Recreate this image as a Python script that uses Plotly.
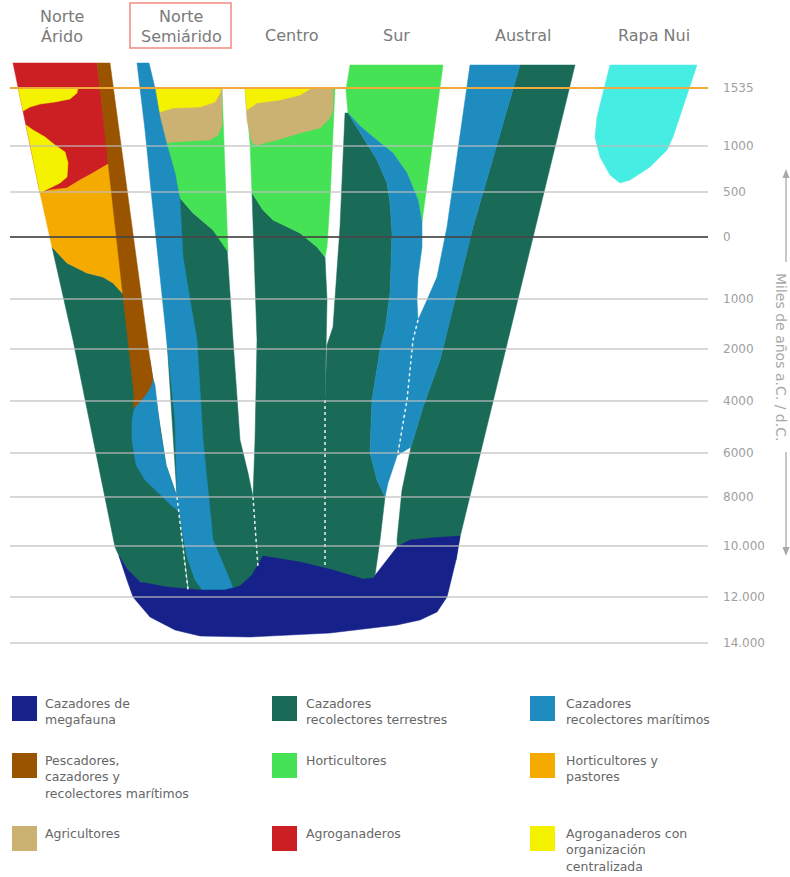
import plotly.graph_objects as go

# ---------------- data ----------------
COLUMNS = ["Norte<br>Árido", "Norte<br>Semiárido", "Centro", "Sur", "Austral", "Rapa Nui"]
COLUMN_X = [62, 181, 291, 396, 523, 654]
COLUMN_Y = [16, 16, 35, 35, 35, 35]

TICK_LABELS = ["1535", "1000", "500", "0", "1000", "2000", "4000", "6000", "8000",
               "10.000", "12.000", "14.000"]
TICK_POS = [88, 146, 192, 237, 299, 349, 401, 453, 497, 546, 597, 643]

CATEGORIES = ["Cazadores de<br>megafauna", "Cazadores<br>recolectores terrestres",
              "Cazadores<br>recolectores marítimos",
              "Pescadores,<br>cazadores y<br>recolectores marítimos", "Horticultores",
              "Horticultores y<br>pastores", "Agricultores", "Agroganaderos",
              "Agroganaderos con<br>organización<br>centralizada"]
COLORS = ["#16228a", "#1a6a58", "#1e8cbf", "#9a5400", "#45e255", "#f5aa00",
          "#cbb273", "#cc1f24", "#f5f200"]
RAPA_COLOR = "#45ede3"

# polygons (outline vertices of each band, x across columns, y on the time scale)
ARIDO_GREEN_X = [52, 67, 87, 103, 113, 124, 150, 153, 166, 177, 188, 170, 135, 120, 115, 73]
ARIDO_GREEN_Y = [247, 263, 273, 277, 283, 295, 360, 380, 465, 497, 592, 592, 580, 558, 547, 340]
ARIDO_RED_X = [13, 97, 110, 93, 80, 67, 40]
ARIDO_RED_Y = [63, 63, 163, 173, 180, 188, 193]
ARIDO_YEL1_X = [18, 78, 77, 70, 55, 40, 30, 23]
ARIDO_YEL1_Y = [88, 88, 93, 99, 102, 104, 107, 111]
ARIDO_YEL2_X = [26, 33, 45, 55, 65, 68, 67, 60, 50, 40]
ARIDO_YEL2_Y = [125, 130, 137, 145, 152, 163, 177, 183, 188, 193]
ARIDO_ORANGE_X = [40, 50, 67, 80, 93, 110, 124, 113, 103, 87, 67, 52]
ARIDO_ORANGE_Y = [193, 190, 188, 180, 173, 163, 295, 283, 277, 273, 263, 247]
ARIDO_BLUE_X = [150, 155, 160, 166, 177, 180, 172, 160, 145, 136, 132, 132, 134, 140]
ARIDO_BLUE_Y = [370, 385, 430, 465, 497, 512, 506, 494, 480, 465, 440, 420, 410, 398]
ARIDO_BROWN_X = [97, 110, 150, 153, 150, 144, 138, 133, 134]
ARIDO_BROWN_Y = [63, 63, 360, 380, 388, 397, 404, 408, 395]

SEMI_DKGREEN_X = [175, 180, 193, 213, 227, 230, 233, 240, 248, 253, 258, 262, 190, 177, 167, 160]
SEMI_DKGREEN_Y = [175, 198, 213, 230, 247, 300, 340, 440, 473, 497, 567, 600, 600, 497, 340, 200]
SEMI_GREEN_X = [152, 222, 225, 228, 213, 193, 180, 165]
SEMI_GREEN_Y = [88, 88, 170, 252, 230, 213, 198, 140]
SEMI_TAN_X = [153, 222, 222, 218, 210, 173, 162, 157]
SEMI_TAN_Y = [88, 88, 125, 135, 140, 142, 144, 110]
SEMI_YEL_X = [153, 221, 220, 215, 200, 173, 157, 155]
SEMI_YEL_Y = [88, 88, 93, 102, 107, 108, 113, 100]
SEMI_BLUE_X = [137, 149, 155, 160, 167, 175, 180, 183, 190, 197, 203, 213, 227, 233, 215, 203,
               195, 187, 182, 177, 175, 167, 158, 152, 145]
SEMI_BLUE_Y = [63, 63, 88, 117, 145, 173, 200, 257, 300, 340, 440, 540, 573, 588, 592, 591,
               580, 557, 530, 497, 420, 340, 257, 200, 130]

CENTRO_DKGREEN_X = [252, 263, 273, 300, 317, 325, 327, 325, 325, 330, 255, 258, 253, 255, 257, 254]
CENTRO_DKGREEN_Y = [193, 210, 220, 233, 247, 257, 300, 400, 570, 590, 590, 567, 497, 440, 340, 257]
CENTRO_GREEN_X = [245, 335, 330, 327, 325, 317, 300, 273, 263, 252, 250]
CENTRO_GREEN_Y = [88, 88, 200, 247, 257, 247, 233, 220, 210, 193, 143]
CENTRO_TAN_X = [245, 333, 333, 330, 320, 300, 277, 257, 252, 247]
CENTRO_TAN_Y = [88, 88, 110, 118, 128, 133, 140, 145, 143, 120]
CENTRO_YEL_X = [245, 312, 310, 300, 280, 257, 247]
CENTRO_YEL_Y = [88, 88, 89, 95, 100, 103, 110]

SUR_DKGREEN_X = [348, 363, 377, 387, 390, 392, 390, 385, 380, 372, 370, 377, 385, 380, 375, 365,
                 328, 325, 325, 327, 333, 340, 345]
SUR_DKGREEN_Y = [113, 137, 160, 183, 203, 233, 293, 330, 350, 400, 453, 480, 497, 540, 575, 590,
                 590, 567, 400, 345, 327, 227, 113]
SUR_GREEN_X = [350, 443, 422, 418, 407, 393, 373, 360, 348, 346]
SUR_GREEN_Y = [65, 65, 222, 200, 173, 153, 137, 126, 113, 90]
SUR_BLUE_X = [348, 360, 373, 393, 407, 418, 422, 422, 418, 417, 418, 413, 407, 398, 388, 385,
              377, 370, 372, 380, 385, 390, 392, 390, 387, 377, 363]
SUR_BLUE_Y = [113, 126, 137, 153, 173, 200, 222, 247, 277, 300, 320, 340, 400, 453, 483, 497,
              480, 453, 400, 350, 330, 293, 233, 203, 183, 160, 137]

AUSTRAL_DKGREEN_X = [520, 575, 460, 456, 398, 397, 402, 411, 423, 440, 473]
AUSTRAL_DKGREEN_Y = [65, 65, 537, 560, 560, 540, 490, 447, 407, 360, 227]
AUSTRAL_BLUE_X = [470, 520, 473, 440, 423, 411, 398, 407, 413, 418, 427, 437, 447]
AUSTRAL_BLUE_Y = [65, 65, 227, 360, 407, 447, 455, 400, 340, 320, 300, 277, 227]

MEGAFAUNA_X = [119, 128, 140, 167, 200, 225, 240, 252, 263, 300, 333, 363, 373, 385, 397, 410,
               430, 460, 456, 447, 437, 420, 397, 330, 250, 200, 175, 150, 133, 127, 122]
MEGAFAUNA_Y = [556, 570, 582, 587, 590, 590, 586, 575, 556, 562, 570, 579, 578, 563, 547, 540,
               538, 536, 560, 597, 612, 620, 625, 633, 637, 636, 630, 617, 597, 580, 566]

RAPA_X = [610, 697, 673, 667, 650, 630, 620, 610, 600, 595, 597]
RAPA_Y = [65, 65, 137, 150, 167, 180, 183, 175, 157, 137, 117]

DOT1_X, DOT1_Y = [177, 188], [497, 590]
DOT2_X, DOT2_Y = [253, 258], [497, 567]
DOT3_X, DOT3_Y = [325, 325], [400, 567]
DOT4_X, DOT4_Y = [418, 413, 407, 398], [320, 340, 400, 453]

# ---------------- figure ----------------
C = dict(zip(["mega", "terr", "mar", "pesc", "hort", "hortp", "agri", "agro", "agroc"], COLORS))

polys = [
    (ARIDO_GREEN_X, ARIDO_GREEN_Y, C["terr"]),
    (ARIDO_RED_X, ARIDO_RED_Y, C["agro"]),
    (ARIDO_YEL1_X, ARIDO_YEL1_Y, C["agroc"]),
    (ARIDO_YEL2_X, ARIDO_YEL2_Y, C["agroc"]),
    (ARIDO_ORANGE_X, ARIDO_ORANGE_Y, C["hortp"]),
    (ARIDO_BLUE_X, ARIDO_BLUE_Y, C["mar"]),
    (ARIDO_BROWN_X, ARIDO_BROWN_Y, C["pesc"]),
    (SEMI_DKGREEN_X, SEMI_DKGREEN_Y, C["terr"]),
    (SEMI_GREEN_X, SEMI_GREEN_Y, C["hort"]),
    (SEMI_TAN_X, SEMI_TAN_Y, C["agri"]),
    (SEMI_YEL_X, SEMI_YEL_Y, C["agroc"]),
    (SEMI_BLUE_X, SEMI_BLUE_Y, C["mar"]),
    (CENTRO_DKGREEN_X, CENTRO_DKGREEN_Y, C["terr"]),
    (CENTRO_GREEN_X, CENTRO_GREEN_Y, C["hort"]),
    (CENTRO_TAN_X, CENTRO_TAN_Y, C["agri"]),
    (CENTRO_YEL_X, CENTRO_YEL_Y, C["agroc"]),
    (SUR_DKGREEN_X, SUR_DKGREEN_Y, C["terr"]),
    (SUR_GREEN_X, SUR_GREEN_Y, C["hort"]),
    (SUR_BLUE_X, SUR_BLUE_Y, C["mar"]),
    (AUSTRAL_DKGREEN_X, AUSTRAL_DKGREEN_Y, C["terr"]),
    (AUSTRAL_BLUE_X, AUSTRAL_BLUE_Y, C["mar"]),
    (MEGAFAUNA_X, MEGAFAUNA_Y, C["mega"]),
    (RAPA_X, RAPA_Y, RAPA_COLOR),
]

FONT = "DejaVu Sans, Arial, sans-serif"

fig = go.Figure()
for xs, ys, col in polys:
    fig.add_trace(go.Scatter(x=xs + [xs[0]], y=ys + [ys[0]], mode="lines", fill="toself",
                             fillcolor=col, line=dict(width=0.5, color=col),
                             hoverinfo="skip", showlegend=False))

for xs, ys in [(DOT1_X, DOT1_Y), (DOT2_X, DOT2_Y), (DOT3_X, DOT3_Y), (DOT4_X, DOT4_Y)]:
    fig.add_trace(go.Scatter(x=xs, y=ys, mode="lines",
                             line=dict(color="rgba(255,255,255,0.9)", width=1.5, dash="dot"),
                             hoverinfo="skip", showlegend=False))

shapes = []
annotations = []
for pos, lab in zip(TICK_POS, TICK_LABELS):
    if lab == "1535":
        lc, lw = "#f2a93b", 2
    elif lab == "0":
        lc, lw = "rgba(70,70,70,0.85)", 2
    else:
        lc, lw = "rgba(190,190,190,0.8)", 1.5
    shapes.append(dict(type="line", x0=10, x1=708, y0=pos, y1=pos, xref="x", yref="y",
                       line=dict(color=lc, width=lw), layer="above"))
    annotations.append(dict(x=721, y=pos, text=lab, showarrow=False, xanchor="left",
                            yanchor="middle", font=dict(size=12, color="#a0a0a0")))

# column headers (each line placed separately, 20 px apart)
for name, cx, cy in zip(COLUMNS, COLUMN_X, COLUMN_Y):
    for k, line in enumerate(name.split("<br>")):
        annotations.append(dict(x=cx, y=cy + 20 * k, text=line, showarrow=False,
                                xanchor="center", yanchor="middle",
                                font=dict(size=16, color="#7a7a7a")))
shapes.append(dict(type="rect", x0=130, x1=231, y0=3, y1=48, xref="x", yref="y",
                   line=dict(color="#f08a80", width=1.5)))

# right axis title with arrows
annotations.append(dict(x=781, y=357, text="Miles de años a.C. / d.C.", textangle=90,
                        showarrow=False, font=dict(size=14, color="#a8a8a8")))
ARROW_C = "#a8a8a8"
shapes.append(dict(type="line", x0=786, x1=786, y0=177, y1=262, xref="x", yref="y",
                   line=dict(color=ARROW_C, width=1.3)))
shapes.append(dict(type="path", path="M 786,169 L 782.5,178 L 789.5,178 Z", xref="x", yref="y",
                   fillcolor=ARROW_C, line=dict(width=0)))
shapes.append(dict(type="line", x0=786, x1=786, y0=452, y1=547, xref="x", yref="y",
                   line=dict(color=ARROW_C, width=1.3)))
shapes.append(dict(type="path", path="M 786,556 L 782.5,547 L 789.5,547 Z", xref="x", yref="y",
                   fillcolor=ARROW_C, line=dict(width=0)))

# legend grid
LEG_COL_X = [12, 272, 530]
LEG_TEXT_X = [43, 304, 564]
LEG_ROW_Y = [696, 753, 826]
for i, (lab, col) in enumerate(zip(CATEGORIES, COLORS)):
    r, c = divmod(i, 3)
    x0, y0 = LEG_COL_X[c], LEG_ROW_Y[r]
    shapes.append(dict(type="rect", x0=x0, x1=x0 + 25, y0=y0, y1=y0 + 25, xref="x", yref="y",
                       fillcolor=col, line=dict(width=0)))
    for k, line in enumerate(lab.split("<br>")):
        annotations.append(dict(x=LEG_TEXT_X[c], y=y0 + 7 + 16.5 * k, text=line,
                                showarrow=False, xanchor="left", yanchor="middle",
                                font=dict(size=12.5, color="#666666")))

fig.update_layout(
    width=790, height=877, margin=dict(l=0, r=0, t=0, b=0),
    plot_bgcolor="white", paper_bgcolor="white",
    font=dict(family=FONT),
    xaxis=dict(range=[0, 790], visible=False, fixedrange=True),
    yaxis=dict(range=[877, 0], visible=False, fixedrange=True),
    shapes=shapes, annotations=annotations,
)

# remove the default page margin so the figure fills the window exactly
fig.write_html("out.html", config={"displayModeBar": False},
               post_script="document.body.style.margin='0';document.body.style.overflow='hidden';")
